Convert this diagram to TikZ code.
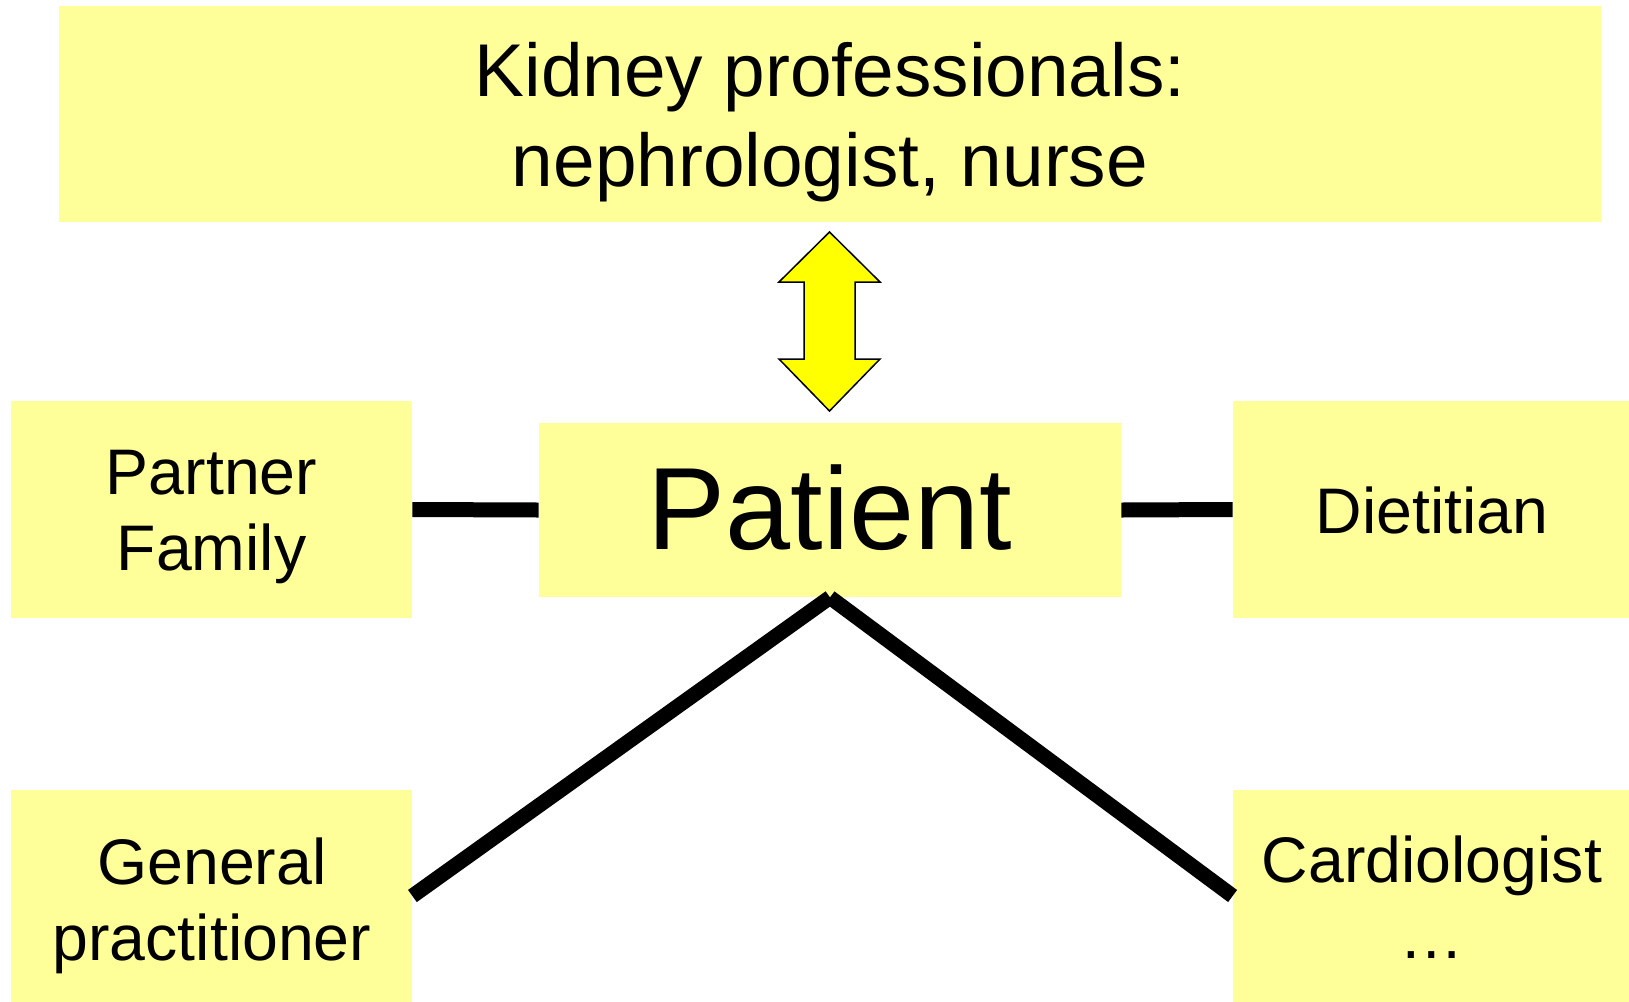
\documentclass[tikz,border=0pt]{standalone}
\usepackage{fontspec}
\setmainfont{Liberation Sans}
\definecolor{boxfill}{HTML}{FFFF99}
\definecolor{arrowfill}{HTML}{FFFF00}
\begin{document}
\begin{tikzpicture}[x=0.5pt,y=-0.5pt,
  box/.style={fill=boxfill, draw=none, inner sep=0pt, anchor=center},
  txt/.style={inner sep=0pt, anchor=base},
  toptext/.style={txt, font=\fontsize{37.4pt}{45pt}\selectfont},
  smalltext/.style={txt, font=\fontsize{32.2pt}{38pt}\selectfont},
  bigtext/.style={txt, font=\fontsize{58.5pt}{66pt}\selectfont},
  link/.style={line width=7.5pt, line cap=butt},
  bigarrow/.style={fill=arrowfill, draw=black, line width=0.75pt, line join=miter}]
\useasboundingbox (0,0) rectangle (1629,1002);
% boxes
\node[box, minimum width=771pt, minimum height=108pt] (top) at (830,114) {};
\node[box, minimum width=200.5pt, minimum height=108.5pt] (partner) at (211.5,509.5) {};
\node[box, minimum width=291pt, minimum height=87pt] (patient) at (830,510) {};
\node[box, minimum width=198pt, minimum height=108.5pt] (diet) at (1431,509.5) {};
\node[box, minimum width=200.5pt, minimum height=106pt] (gp) at (211.5,896) {};
\node[box, minimum width=198pt, minimum height=106pt] (cardio) at (1431,896) {};
% texts
\node[toptext] (t1) at (830,96) {Kidney professionals:};
\node[toptext] (t2) at (830,186) {nephrologist, nurse};
\node[bigtext] (tp) at (830,549) {Patient};
\node[smalltext] (tpa) at (211.5,494) {Partner};
\node[smalltext] (tfa) at (211.5,570) {Family};
\node[smalltext] (tdi) at (1432,533) {Dietitian};
\node[smalltext] (tge) at (212,884) {General};
\node[smalltext] (tpr) at (212,960) {practitioner};
\node[smalltext] (tca) at (1432,882) {Cardiologist};
\node[smalltext] (tdo) at (1432,958) {\ldots};
% connectors
\draw[link] (partner.east) -- (patient.west);
\draw[link] (patient.east) -- (diet.west);
\draw[link] (patient.south) -- (gp.east);
\draw[link] (patient.south) -- (cardio.west);
% double block arrow
\coordinate (atop) at (829.5,232);
\coordinate (abot) at (829.5,411);
\draw[bigarrow] (atop) -- (880,282) -- (855,282) -- (855,359) -- (880,359) -- (abot) -- (779,359) -- (804,359) -- (804,282) -- (779,282) -- cycle;
\end{tikzpicture}
\end{document}
